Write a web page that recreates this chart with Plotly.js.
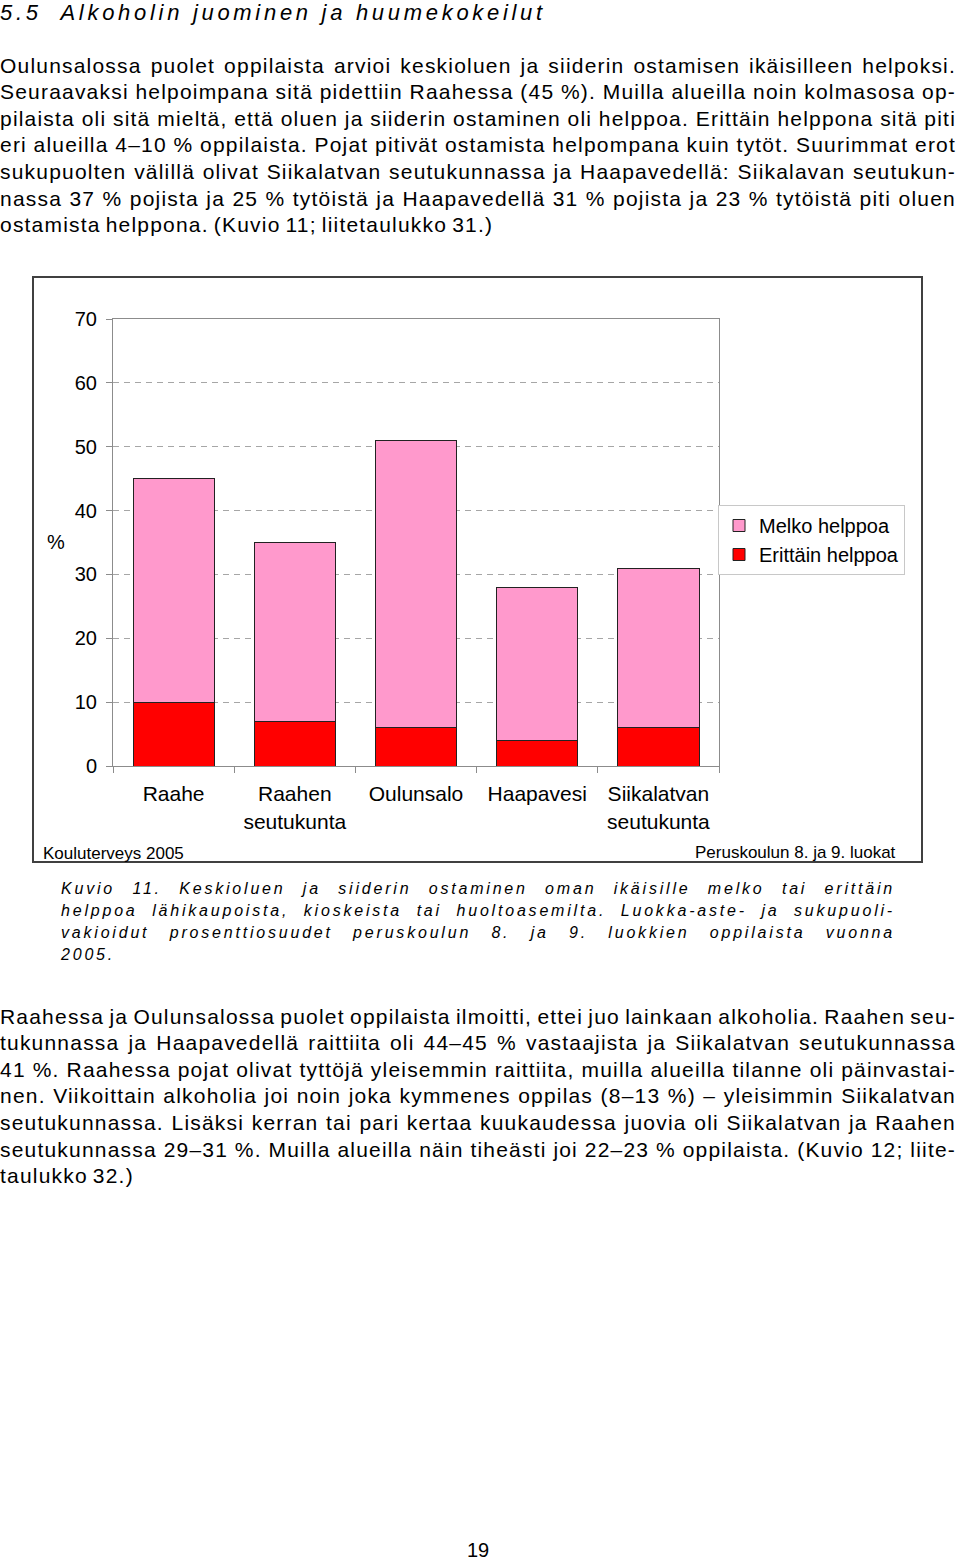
<!DOCTYPE html>
<html>
<head>
<meta charset="utf-8">
<script src="https://cdn.plot.ly/plotly-3.0.1.min.js"></script>
<style>
  html, body { margin:0; padding:0; background:#fff; }
  body { width:960px; height:1559px; position:relative; overflow:hidden;
         font-family:"Liberation Sans", Arial, sans-serif; color:#000; }
  .h { position:absolute; left:0; top:0; font-style:italic; font-size:22px;
       letter-spacing:3.7px; line-height:26px; white-space:nowrap; }
  .p { position:absolute; left:0; width:956px; font-size:21px; letter-spacing:1.2px; word-spacing:-2px; }
  .p div { height:26.6px; line-height:26.6px; text-align:justify; text-align-last:justify; }
  .p div.last { text-align:left; text-align-last:left; }
  .cap { position:absolute; left:61px; width:834px; font-style:italic; font-size:16px; letter-spacing:2.8px; }
  .cap div { height:22px; line-height:22px; text-align:justify; text-align-last:justify; }
  .cap div.last { text-align:left; text-align-last:left; }
  #chart { position:absolute; left:24px; top:268px; width:910px; height:604px; }
  .pn { position:absolute; left:0; width:956px; top:1537px; text-align:center; font-size:20px; line-height:26px; }
</style>
</head>
<body>
<div class="h">5.5&nbsp; Alkoholin juominen ja huumekokeilut</div>

<div class="p" style="top:52.7px">
  <div>Oulunsalossa puolet oppilaista arvioi keskioluen ja siiderin ostamisen ikäisilleen helpoksi.</div>
  <div>Seuraavaksi helpoimpana sitä pidettiin Raahessa (45 %). Muilla alueilla noin kolmasosa op-</div>
  <div>pilaista oli sitä mieltä, että oluen ja siiderin ostaminen oli helppoa. Erittäin helppona sitä piti</div>
  <div>eri alueilla 4–10 % oppilaista. Pojat pitivät ostamista helpompana kuin tytöt. Suurimmat erot</div>
  <div>sukupuolten välillä olivat Siikalatvan seutukunnassa ja Haapavedellä: Siikalavan seutukun-</div>
  <div>nassa 37 % pojista ja 25 % tytöistä ja Haapavedellä 31 % pojista ja 23 % tytöistä piti oluen</div>
  <div class="last">ostamista helppona. (Kuvio 11; liitetaulukko 31.)</div>
</div>

<div id="chart"></div>

<div class="cap" style="top:878px">
  <div>Kuvio 11. Keskioluen ja siiderin ostaminen oman ikäisille melko tai erittäin</div>
  <div>helppoa lähikaupoista, kioskeista tai huoltoasemilta. Luokka-aste- ja sukupuoli-</div>
  <div>vakioidut prosenttiosuudet peruskoulun 8. ja 9. luokkien oppilaista vuonna</div>
  <div class="last">2005.</div>
</div>

<div class="p" style="top:1003.7px">
  <div>Raahessa ja Oulunsalossa puolet oppilaista ilmoitti, ettei juo lainkaan alkoholia. Raahen seu-</div>
  <div>tukunnassa ja Haapavedellä raittiita oli 44–45 % vastaajista ja Siikalatvan seutukunnassa</div>
  <div>41 %. Raahessa pojat olivat tyttöjä yleisemmin raittiita, muilla alueilla tilanne oli päinvastai-</div>
  <div>nen. Viikoittain alkoholia joi noin joka kymmenes oppilas (8–13 %) – yleisimmin Siikalatvan</div>
  <div>seutukunnassa. Lisäksi kerran tai pari kertaa kuukaudessa juovia oli Siikalatvan ja Raahen</div>
  <div>seutukunnassa 29–31 %. Muilla alueilla näin tiheästi joi 22–23 % oppilaista. (Kuvio 12; liite-</div>
  <div class="last">taulukko 32.)</div>
</div>

<div class="pn">19</div>

<script>
// ---- data ----
const categories = ['Raahe', 'Raahen<br>seutukunta', 'Oulunsalo', 'Haapavesi', 'Siikalatvan<br>seutukunta'];
const erittainHelppoa = [10, 7, 6, 4, 6];
const melkoHelppoa = [35, 28, 45, 24, 25];
const seriesNames = ['Erittäin helppoa', 'Melko helppoa'];
const yTicks = [0, 10, 20, 30, 40, 50, 60, 70];

// ---- layout helpers (page pixel -> paper coords) ----
const FONT = '"Liberation Sans", Arial, sans-serif';
const DIV_L = 24, DIV_T = 268, DIV_W = 910, DIV_H = 604;
const PL = 113, PR = 719, PT = 319, PB = 766;
const px = x => (x - PL) / (PR - PL);
const py = y => (PB - y) / (PB - PT);

const traces = [
  { type:'bar', name:seriesNames[0], x:categories, y:erittainHelppoa,
    marker:{ color:'#FF0000', line:{ color:'#222', width:1 } } },
  { type:'bar', name:seriesNames[1], x:categories, y:melkoHelppoa,
    marker:{ color:'#FF99CC', line:{ color:'#222', width:1 } } }
];

const layout = {
  width:DIV_W, height:DIV_H,
  margin:{ l:PL - DIV_L, r:DIV_L + DIV_W - PR, t:PT - DIV_T, b:DIV_T + DIV_H - PB },
  paper_bgcolor:'rgba(0,0,0,0)', plot_bgcolor:'#fff',
  font:{ family:FONT, color:'#000' },
  barmode:'stack', bargap:0.33,
  showlegend:true,
  legend:{ x:px(718), y:py(505), xanchor:'left', yanchor:'top',
           traceorder:'reversed', bgcolor:'#fff', bordercolor:'#c8c8c8', borderwidth:1,
           font:{ size:20, family:FONT }, tracegroupgap:0 },
  xaxis:{ type:'category', showline:true, mirror:true, linecolor:'#8c8c8c', linewidth:1,
          ticks:'outside', tickson:'boundaries', ticklen:6, tickcolor:'#8c8c8c',
          tickfont:{ size:21, family:FONT }, showgrid:false, ticklabelstandoff:9 },
  yaxis:{ range:[0,70], tickvals:yTicks, showline:true, mirror:true, linecolor:'#8c8c8c', linewidth:1,
          ticks:'outside', ticklen:6, tickcolor:'#8c8c8c', tickfont:{ size:20, family:FONT },
          showgrid:true, gridcolor:'#a6a6a6', gridwidth:1, griddash:'6px,5px', zeroline:false,
          ticklabelstandoff:5 },
  shapes:[
    { type:'rect', xref:'paper', yref:'paper', x0:px(33), x1:px(922), y0:py(277), y1:py(862),
      line:{ color:'#404040', width:2 }, fillcolor:'rgba(0,0,0,0)', layer:'below' }
  ],
  annotations:[
    { text:'%', xref:'paper', yref:'paper', x:px(56), y:py(542), xanchor:'center', yanchor:'middle',
      showarrow:false, font:{ size:20, family:FONT } },
    { text:'Kouluterveys 2005', xref:'paper', yref:'paper', x:px(41), y:py(853), xanchor:'left', yanchor:'middle',
      showarrow:false, font:{ size:17, family:FONT } },
    { text:'Peruskoulun 8. ja 9. luokat', xref:'paper', yref:'paper', x:px(898), y:py(852), xanchor:'right', yanchor:'middle',
      showarrow:false, font:{ size:17, family:FONT } }
  ]
};

Plotly.newPlot('chart', traces, layout, { staticPlot:true, displayModeBar:false });
</script>
</body>
</html>
